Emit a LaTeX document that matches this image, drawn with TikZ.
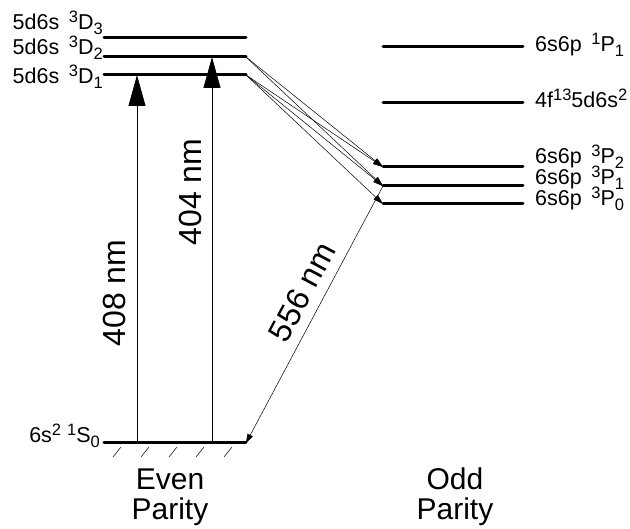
\documentclass[tikz,border=0pt]{standalone}
\usepackage{fontspec}
\setmainfont{Liberation Sans}
\usepackage{tkz-euclide}
\usetikzlibrary{arrows.meta}

\newcommand{\hisup}[1]{\raisebox{7.5pt}{\fontsize{16.5}{18}\selectfont #1}}
\newcommand{\losub}[1]{\raisebox{-5pt}{\fontsize{16.5}{18}\selectfont #1}}
\newcommand{\term}[4]{#1\ \,\hisup{#2}#3\losub{#4}}

\tikzset{
  lbl/.style={inner sep=0pt,font=\fontsize{21.5}{26}\selectfont},
  wave/.style={inner sep=0pt,font=\fontsize{32}{38}\selectfont},
  parity/.style={inner sep=0pt,align=center,font=\fontsize{30}{31}\selectfont},
  pump/.style={line width=.8pt,-{Triangle[length=31pt,width=17pt]}},
  decay/.style={line width=.5pt,-{Triangle[length=10pt,width=6pt]}}
}

\begin{document}
\begin{tikzpicture}[x=1pt,y=-1pt]
\tkzSetUpLine[line width=3pt,color=black]
\useasboundingbox (0,0) rectangle (630,529);

% even parity levels
\tkzDefPoints{104/38/D3a,246/38/D3b,104/57/D2a,246/57/D2b,104/75/D1a,246/75/D1b,104/443/S0a,246/443/S0b}
% odd parity levels
\tkzDefPoints{383/47/Pa,523/47/Pb,383/103/Fa,523/103/Fb,383/167/P2a,523/167/P2b,383/186/P1a,523/186/P1b,383/204/P0a,523/204/P0b}
% feet of the pump arrows
\tkzDefPoints{137/443/Ga,137/75/Ea,212/443/Gb,212/57/Eb}

\tkzDrawSegments(D3a,D3b D2a,D2b D1a,D1b S0a,S0b)
\tkzDrawSegments(Pa,Pb Fa,Fb P2a,P2b P1a,P1b P0a,P0b)

\foreach \hx in {121,149,177,204,232}
  \draw[line width=.5pt] (\hx,447) -- ++(-8,10);

\draw[pump] (Ga) -- (Ea);
\draw[pump] (Gb) -- (Eb);

\foreach \s/\e in {D2b/P2a,D2b/P1a,D1b/P2a,D1b/P1a,D1b/P0a}
  \draw[decay] (\s) -- (\e);
\draw[decay,-{Triangle[length=9pt,width=6pt]}] (P1a) -- (S0b);

\node[wave,rotate=90] (w408) at (114,293) {408 nm};
\node[wave,rotate=90] (w404) at (190,192) {404 nm};
\node[wave,rotate=62] (w556) at (302,292) {556 nm};

\node[lbl,anchor=base east] (tD3) at (103,30) {\term{5d6s}{3}{D}{3}};
\node[lbl,anchor=base east] (tD2) at (103,55) {\term{5d6s}{3}{D}{2}};
\node[lbl,anchor=base east] (tD1) at (103,84) {\term{5d6s}{3}{D}{1}};
\node[lbl,anchor=base east] (tS0) at (100,443) {6s\hisup{2} \hisup{1}S\losub{0}};

\node[lbl,anchor=base west] (tP) at (535,52) {\term{6s6p}{1}{P}{1}};
\node[lbl,anchor=base west] (tF) at (535,108) {4f\hisup{13}5d6s\hisup{2}};
\node[lbl,anchor=base west] (tP2) at (535,164) {\term{6s6p}{3}{P}{2}};
\node[lbl,anchor=base west] (tP1) at (535,185) {\term{6s6p}{3}{P}{1}};
\node[lbl,anchor=base west] (tP0) at (535,206) {\term{6s6p}{3}{P}{0}};

\node[parity,anchor=base] (even) at (170,520) {Even\\Parity};
\node[parity,anchor=base] (odd) at (455,520) {Odd\\Parity};
\end{tikzpicture}
\end{document}
